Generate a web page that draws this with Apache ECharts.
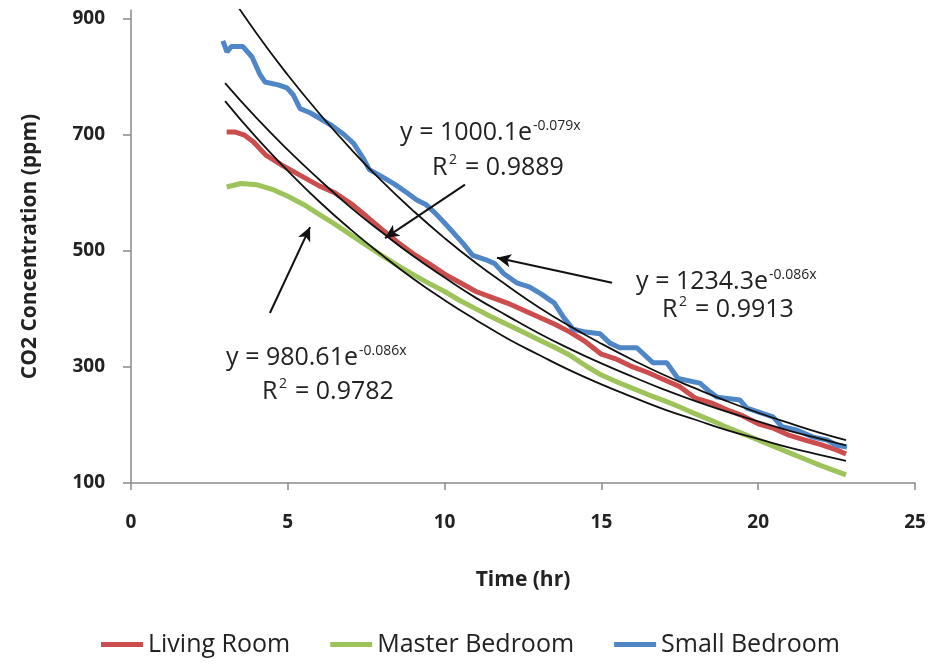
<!DOCTYPE html>
<html>
<head>
<meta charset="utf-8">
<title>CO2 decay</title>
<script src="https://cdn.jsdelivr.net/npm/echarts@6/dist/echarts.min.js"></script>
<style>
  html, body { margin: 0; padding: 0; background: #fff; }
  #chart { width: 930px; height: 666px; }
</style>
</head>
<body>
<div id="chart"></div>
<script>
var livingHours = [3.05, 3.3, 3.6, 3.9, 4.3, 4.8, 5.4, 6.0, 6.5, 7.0, 7.5, 8.0, 8.5, 9.0, 9.5, 10.0, 10.5, 11.0, 11.5, 12.0, 12.5, 13.0, 13.5, 14.0, 14.5, 15.0, 15.5, 16.0, 16.5, 17.0, 17.5, 18.0, 18.5, 19.0, 19.5, 20.0, 20.5, 21.0, 21.5, 22.0, 22.5, 22.8];
var livingPpm = [705, 705, 700, 688, 665, 648, 630, 612, 600, 582, 560, 537, 515, 495, 478, 460, 445, 430, 420, 410, 398, 386, 374, 360, 343, 322, 313, 300, 290, 278, 266, 246, 238, 226, 216, 202, 194, 182, 174, 166, 157, 150];

var masterHours = [3.05, 3.5, 4.0, 4.5, 5.0, 5.5, 6.0, 6.5, 7.0, 7.5, 8.0, 8.5, 9.0, 9.5, 10.0, 10.5, 11.0, 11.5, 12.0, 12.5, 13.0, 13.5, 14.0, 14.5, 15.0, 15.5, 16.0, 16.5, 17.0, 17.5, 18.0, 18.5, 19.0, 19.5, 20.0, 20.5, 21.0, 21.5, 22.0, 22.5, 22.8];
var masterPpm = [610, 616, 614, 606, 594, 580, 563, 546, 528, 510, 492, 475, 459, 444, 430, 414, 400, 386, 373, 360, 347, 334, 320, 302, 286, 274, 263, 252, 242, 231, 219, 208, 196, 185, 174, 163, 152, 141, 130, 120, 114];

var smallHours = [2.93, 3.06, 3.2, 3.57, 3.86, 4.1, 4.27, 4.69, 4.97, 5.17, 5.39, 5.71, 6.03, 6.4, 6.8, 7.1, 7.4, 7.6, 8.0, 8.4, 8.8, 9.1, 9.4, 9.7, 10.0, 10.3, 10.6, 10.9, 11.3, 11.6, 11.9, 12.3, 12.7, 13.1, 13.5, 13.8, 14.1, 14.5, 14.96, 15.27, 15.59, 16.13, 16.45, 16.65, 17.09, 17.44, 18.14, 18.46, 18.69, 19.42, 19.64, 20.47, 20.76, 21.24, 21.75, 22.19, 22.5, 22.83];
var smallPpm = [862, 843, 852, 852, 834, 805, 791, 786, 781, 769, 745, 738, 728, 716, 700, 685, 660, 640, 628, 615, 600, 588, 580, 565, 548, 530, 512, 492, 485, 478, 460, 445, 438, 425, 410, 385, 365, 360, 357, 341, 333, 333, 317, 307, 307, 280, 272, 257, 248, 243, 229, 214, 197, 191, 179, 174, 165, 162];

// exponential trend lines
var trendHours = [3, 4, 5, 6, 7, 8, 9, 10, 11, 12, 13, 14, 15, 16, 17, 18, 19, 20, 21, 22, 22.8];
var livingTrend = [789, 729, 674, 623, 575, 532, 491, 454, 419, 388, 358, 331, 306, 283, 261, 241, 223, 206, 190, 176, 165];
var masterTrend = [758, 695, 638, 585, 537, 493, 452, 415, 381, 349, 321, 294, 270, 248, 227, 209, 191, 176, 161, 148, 138];
var smallTrend = [954, 875, 803, 737, 676, 620, 569, 522, 479, 440, 403, 370, 340, 312, 286, 263, 241, 221, 203, 186, 174];

var yTicks = [100, 300, 500, 700, 900];
var seriesNames = ['Living Room', 'Master Bedroom', 'Small Bedroom'];
var seriesColors = ['#CC4D4D', '#9CC45A', '#4F86C8'];

var FONT = '"Open Sans", "DejaVu Sans", sans-serif';

function pairs(xs, ys) {
  return xs.map(function (x, i) { return [x, ys[i]]; });
}

function dataLine(name, color, xs, ys) {
  return {
    name: name,
    type: 'line',
    data: pairs(xs, ys),
    symbol: 'none',
    lineStyle: { width: 5, color: color },
    itemStyle: { color: color },
    z: 2
  };
}

function trendLine(xs, ys, arrow) {
  var s = {
    type: 'line',
    data: pairs(xs, ys),
    symbol: 'none',
    smooth: true,
    silent: true,
    lineStyle: { width: 1.8, color: '#111' },
    z: 3
  };
  if (arrow) {
    s.markLine = {
      silent: true,
      symbol: ['none', 'arrow'],
      symbolSize: [10, 14],
      label: { show: false },
      lineStyle: { color: '#111', width: 2, type: 'solid' },
      data: [[{ coord: arrow[0] }, { coord: arrow[1] }]]
    };
  }
  return s;
}

// equation label: main part right aligned, exponent starts where it ends
function eqLabel(x, y, main, sup, r2x, r2y, r2) {
  return [
    { type: 'text', x: x, y: y, style: { text: main, font: '25px ' + FONT, fill: '#222', align: 'right', verticalAlign: 'middle' } },
    { type: 'text', x: x + 1, y: y - 7, style: { text: sup, font: '14px ' + FONT, fill: '#222', align: 'left', verticalAlign: 'middle' } },
    { type: 'text', x: r2x, y: r2y, style: { text: 'R', font: '25px ' + FONT, fill: '#222', align: 'left', verticalAlign: 'middle' } },
    { type: 'text', x: r2x + 17, y: r2y - 8, style: { text: '2', font: '14px ' + FONT, fill: '#222', align: 'left', verticalAlign: 'middle' } },
    { type: 'text', x: r2x + 33, y: r2y, style: { text: '= ' + r2, font: '25px ' + FONT, fill: '#222', align: 'left', verticalAlign: 'middle' } }
  ];
}

var chart = echarts.init(document.getElementById('chart'));

var option = {
  animation: false,
  grid: { left: 131, right: 15, top: 10, bottom: 183 },
  legend: {
    data: seriesNames,
    left: 96,
    top: 627,
    icon: 'rect',
    itemWidth: 42,
    itemHeight: 5,
    itemGap: 40,
    textStyle: { fontFamily: FONT, fontSize: 25, color: '#222' }
  },
  xAxis: {
    type: 'value',
    min: 0,
    max: 25,
    interval: 5,
    name: 'Time (hr)',
    nameLocation: 'middle',
    nameGap: 87,
    nameTextStyle: { fontFamily: FONT, fontSize: 21, fontWeight: 'bold', color: '#222' },
    axisLine: { lineStyle: { color: '#8a8a8a', width: 1.5 } },
    axisTick: { length: 7, lineStyle: { color: '#8a8a8a', width: 1.5 } },
    axisLabel: { margin: 30, fontFamily: FONT, fontSize: 19, fontWeight: 'bold', color: '#222' },
    splitLine: { show: false }
  },
  yAxis: {
    type: 'value',
    min: 100,
    max: 915,
    name: 'CO2 Concentration (ppm)',
    nameLocation: 'middle',
    nameRotate: 90,
    nameGap: 90,
    nameTextStyle: { fontFamily: FONT, fontSize: 21, fontWeight: 'bold', color: '#222' },
    axisLine: { show: true, lineStyle: { color: '#8a8a8a', width: 1.5 } },
    axisTick: { show: true, length: 8, customValues: yTicks, lineStyle: { color: '#8a8a8a', width: 1.5 } },
    axisLabel: { margin: 26, customValues: yTicks, fontFamily: FONT, fontSize: 19, fontWeight: 'bold', color: '#222' },
    splitLine: { show: false }
  },
  series: [
    dataLine(seriesNames[0], seriesColors[0], livingHours, livingPpm),
    dataLine(seriesNames[1], seriesColors[1], masterHours, masterPpm),
    dataLine(seriesNames[2], seriesColors[2], smallHours, smallPpm),
    trendLine(trendHours, livingTrend, [[10.65, 614], [8.1, 522]]),
    trendLine(trendHours, masterTrend, [[4.43, 393], [5.71, 541]]),
    trendLine(trendHours, smallTrend, [[15.34, 445], [11.67, 488]])
  ],
  graphic: [].concat(
    eqLabel(532, 133, 'y = 1000.1e', '-0.079x', 432, 168, '0.9889'),
    eqLabel(768, 282, 'y = 1234.3e', '-0.086x', 662, 310, '0.9913'),
    eqLabel(358, 358, 'y = 980.61e', '-0.086x', 262, 392, '0.9782')
  )
};

chart.setOption(option);
</script>
</body>
</html>
